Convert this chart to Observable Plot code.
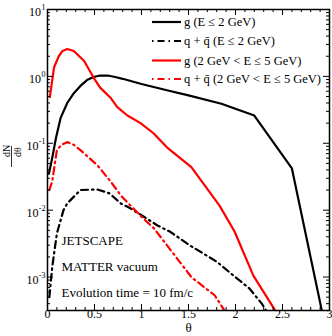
<!DOCTYPE html>
<html>
<head>
<meta charset="utf-8">
<script src="https://cdn.jsdelivr.net/npm/d3@7"></script>
<script src="https://cdn.jsdelivr.net/npm/@observablehq/plot@0.6"></script>
<style>
  html, body { margin: 0; padding: 0; background: #fff; }
  #chart svg { display: block; }
</style>
</head>
<body>
<div id="chart"></div>
<script>
// ---- data ----
const gLowTheta = [0.015,0.05,0.09,0.14,0.21,0.28,0.35,0.42,0.49,0.56,0.64,0.72,0.8,1.0,1.27,1.5,1.85,2.2,2.6,3.0];
const gLowVal   = [0.035,0.06,0.12,0.24,0.40,0.56,0.72,0.88,0.98,1.03,1.03,0.98,0.92,0.77,0.62,0.52,0.39,0.26,0.042,0.00009];

const qLowTheta = [0.02,0.05,0.1,0.17,0.21,0.35,0.53,0.66,0.78,0.88,1.03,1.17,1.31,1.51,1.8,1.98,2.15,2.28,2.35];
const qLowVal   = [0.0005,0.0014,0.0045,0.01,0.0126,0.02,0.0204,0.0178,0.0126,0.0107,0.0079,0.0059,0.0047,0.003,0.0017,0.00105,0.00067,0.0004,0.00028];

const gMidTheta = [0.025,0.07,0.12,0.16,0.21,0.28,0.39,0.49,0.56,0.67,0.74,0.85,0.99,1.13,1.27,1.53,1.83,1.99,2.19,2.42,2.46];
const gMidVal   = [0.49,1.37,2.0,2.4,2.57,2.4,1.7,0.96,0.68,0.48,0.35,0.26,0.2,0.14,0.087,0.044,0.0117,0.0048,0.00105,0.00032,0.00024];

const qMidTheta = [0.02,0.05,0.1,0.15,0.21,0.28,0.35,0.53,0.67,0.78,0.88,1.02,1.13,1.27,1.53,1.78,1.88,1.93];
const qMidVal   = [0.02,0.027,0.079,0.095,0.104,0.095,0.079,0.047,0.027,0.0166,0.0118,0.0075,0.0054,0.003,0.001,0.00053,0.00032,0.00024];

const seriesNames = ["g (E \u2264 2 GeV)", "q + q\u0304 (E \u2264 2 GeV)", "g (2 GeV < E \u2264 5 GeV)", "q + q\u0304 (2 GeV < E \u2264 5 GeV)"];
const seriesColors = ["#000000", "#000000", "#ff0000", "#ff0000"];
const seriesDash = [null, "7,4,1.5,4", null, "7,4,1.5,4"];

const xMajor = [0, 0.5, 1, 1.5, 2, 2.5, 3];
const xTickLabels = ["0", "0.5", "1", "1.5", "2", "2.5", "3"];
const yDecades = [1, 0, -1, -2, -3];
const annotations = ["JETSCAPE", "MATTER vacuum", "Evolution time = 10 fm/c"];

// ---- build ----
const W = 332, H = 336;
const mL = 47, mR = 3, mT = 9, mB = 26;
const pw = W - mL - mR, ph = H - mT - mB;
const yMin = Math.pow(10, -3.5), yMax = 10;

const toRows = (t, v) => t.map((d, i) => ({theta: d, v: v[i]}));
const series = [toRows(gLowTheta, gLowVal), toRows(qLowTheta, qLowVal), toRows(gMidTheta, gMidVal), toRows(qMidTheta, qMidVal)];

const xMinor = d3.range(0, 31).map(i => i / 10).filter(d => !xMajor.some(m => Math.abs(m - d) < 1e-9));
const yMinor = [];
for (let e = -4; e <= 0; e++) for (let k = 2; k <= 9; k++) { const v = k * Math.pow(10, e); if (v >= yMin && v <= yMax) yMinor.push(v); }
const yMaj = yDecades.map(d => Math.pow(10, d));

const serif = "Liberation Serif, Times New Roman, serif";

const marks = [];
series.forEach((s, i) => {
  marks.push(Plot.line(s, {x: "theta", y: "v", stroke: seriesColors[i], strokeWidth: 2.2,
    strokeDasharray: seriesDash[i] || undefined, clip: true}));
});
// ticks (inward, on all four sides)
marks.push(Plot.tickX(xMajor, {x: d => d, insetTop: ph - 6, stroke: "#000", strokeWidth: 1}));
marks.push(Plot.tickX(xMajor, {x: d => d, insetBottom: ph - 6, stroke: "#000", strokeWidth: 1}));
marks.push(Plot.tickX(xMinor, {x: d => d, insetTop: ph - 3, stroke: "#000", strokeWidth: 1}));
marks.push(Plot.tickX(xMinor, {x: d => d, insetBottom: ph - 3, stroke: "#000", strokeWidth: 1}));
marks.push(Plot.tickY(yMaj, {y: d => d, insetRight: pw - 6, stroke: "#000", strokeWidth: 1}));
marks.push(Plot.tickY(yMaj, {y: d => d, insetLeft: pw - 6, stroke: "#000", strokeWidth: 1}));
marks.push(Plot.tickY(yMinor, {y: d => d, insetRight: pw - 3, stroke: "#000", strokeWidth: 1}));
marks.push(Plot.tickY(yMinor, {y: d => d, insetLeft: pw - 3, stroke: "#000", strokeWidth: 1}));
marks.push(Plot.frame({stroke: "#000", strokeWidth: 1.5}));
// x tick labels
marks.push(Plot.text(xMajor, {x: d => d, text: (d, i) => xTickLabels[i], frameAnchor: "bottom", dy: 7.5,
  fontSize: 12, fontFamily: serif, fill: "#000"}));
// y tick labels 10^n
const yPos = yDecades.filter(d => d >= 0), yNeg = yDecades.filter(d => d < 0);
marks.push(Plot.text(yPos, {y: d => Math.pow(10, d), text: () => "10", frameAnchor: "left", textAnchor: "end", dx: -6.5, dy: 3,
  fontSize: 12, fontFamily: serif, fill: "#000"}));
marks.push(Plot.text(yNeg, {y: d => Math.pow(10, d), text: () => "10", frameAnchor: "left", textAnchor: "end", dx: -9, dy: 3,
  fontSize: 12, fontFamily: serif, fill: "#000"}));
marks.push(Plot.text(yDecades, {y: d => Math.pow(10, d), text: d => (d < 0 ? "-" : "") + Math.abs(d), frameAnchor: "left", textAnchor: "end", dx: -2, dy: -2,
  fontSize: 8, fontFamily: serif, fill: "#000"}));
// axis labels
marks.push(Plot.text(["\u03b8"], {text: d => d, frameAnchor: "bottom", dy: 21.5, fontSize: 13, fontFamily: serif, fill: "#000"}));
marks.push(Plot.text(["dN"], {text: d => d, frameAnchor: "left", rotate: -90, dx: -41, dy: -3, fontSize: 10, fontFamily: serif, fill: "#000"}));
marks.push(Plot.text(["d\u03b8"], {text: d => d, frameAnchor: "left", rotate: -90, dx: -30, dy: -3, fontSize: 10, fontFamily: serif, fill: "#000"}));
// annotations
const annDy = [-66, -40, -14];
annotations.forEach((t, i) => {
  marks.push(Plot.text([t], {text: d => d, frameAnchor: "bottom-left", textAnchor: "start", dx: 14, dy: annDy[i],
    fontSize: 13, fontFamily: serif, fill: "#000"}));
});

const chart = Plot.plot({
  width: W, height: H,
  marginLeft: mL, marginRight: mR, marginTop: mT, marginBottom: mB,
  x: {domain: [0, 3], axis: null},
  y: {type: "log", domain: [yMin, yMax], axis: null},
  style: {background: "#fff", overflow: "visible"},
  marks
});

const svg = d3.select(chart);
// fraction bar of dN/dθ
svg.append("line").attr("x1", 11.5).attr("x2", 11.5).attr("y1", 146).attr("y2", 167)
  .attr("stroke", "#000").attr("stroke-width", 0.8);
// legend
const leg = svg.append("g").attr("text-anchor", "start");
const rowsY = [22, 41, 60.5, 79];
seriesNames.forEach((name, i) => {
  leg.append("line").attr("x1", 152).attr("x2", 181).attr("y1", rowsY[i]).attr("y2", rowsY[i])
    .attr("stroke", seriesColors[i]).attr("stroke-width", 2.2)
    .attr("stroke-dasharray", seriesDash[i] ? "1.5,4,7,4" : null);
  leg.append("text").attr("x", 184).attr("y", rowsY[i]).attr("dy", "0.35em")
    .attr("text-anchor", "start")
    .attr("font-family", serif).attr("font-size", 12.5).attr("fill", "#000").text(name);
});

document.getElementById("chart").appendChild(chart);
</script>
</body>
</html>
